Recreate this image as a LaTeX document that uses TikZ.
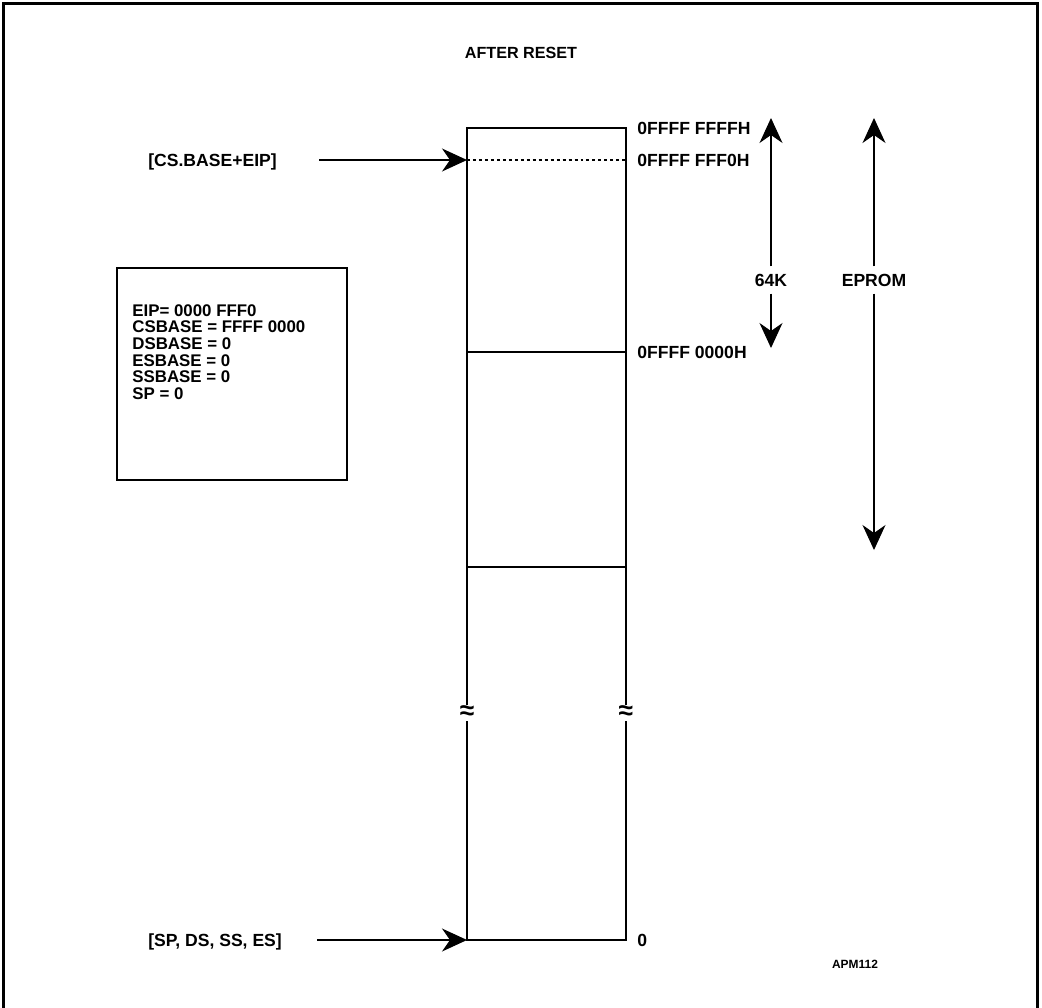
\documentclass[tikz,border=0pt]{standalone}
\usepackage{fontspec}
\setmainfont{Liberation Sans}
\usetikzlibrary{arrows.meta,positioning}
\tikzset{
  >={Stealth[length=5mm,width=4.6mm,inset=1.6mm]},
  lbl/.style={font=\bfseries\fontsize{10}{10.5}\selectfont,inner sep=0pt,
    text height=0.716em,text depth=0pt},
  titlelbl/.style={lbl,font=\bfseries\fontsize{9.2}{10}\selectfont},
  reglbl/.style={font=\bfseries\fontsize{9.6}{9.5}\selectfont,inner sep=0pt,
    align=left},
  smalllbl/.style={font=\bfseries\fontsize{6.8}{8}\selectfont,inner sep=0pt},
  spanlbl/.style={lbl,inner xsep=2pt,inner ysep=4pt},
  ptr/.style={->,line width=0.6pt},
  wall/.style={draw,line width=1.1pt},
  divider/.style={line width=0.6pt},
  brk/.style={fill=white,inner xsep=0pt,inner ysep=0.8pt,
    font=\bfseries\fontsize{15}{15}\selectfont},
}
\begin{document}
\begin{tikzpicture}[x=0.02cm,y=-0.02cm]
  \useasboundingbox (0,0) rectangle (1042,1008);
  \draw[line width=1.4pt] (3.5,3.5) rectangle (1037.5,1012);
  \node[titlelbl] (title) at (521,52) {AFTER RESET};
  % memory column
  \node[wall,minimum width=3.18cm,minimum height=16.24cm,anchor=north west,
    inner sep=0pt,outer sep=0pt] (mem) at (467,128) {};
  \draw[divider,dash pattern=on 1.7pt off 1.7pt] (mem.west |- 0,160) -- (mem.east |- 0,160);
  \draw[divider] (mem.west |- 0,352) -- (mem.east |- 0,352);
  \draw[divider] (mem.west |- 0,567) -- (mem.east |- 0,567);
  \node[brk] (brkL) at (mem.west |- 0,713) {≈};
  \node[brk] (brkR) at (mem.east |- 0,713) {≈};
  % addresses
  \node[lbl,anchor=west] (top) at (637,128) {0FFFF FFFFH};
  \node[lbl,anchor=west] (reset) at (637,160) {0FFFF FFF0H};
  \node[lbl,anchor=west] (seg) at (637,352) {0FFFF 0000H};
  \node[lbl,anchor=west] (zero) at (637,940) {0};
  % pointers
  \node[lbl,anchor=west] (cseip) at (148,160) {[CS.BASE+EIP]};
  \node[lbl,anchor=west] (stk) at (148,940) {[SP, DS, SS, ES]};
  \coordinate (cstail) at (319,160);
  \coordinate (stktail) at (317,940);
  \draw[ptr] (cstail) -- (mem.west |- cstail);
  \draw[ptr] (stktail) -- (mem.west |- stktail);
  % ranges
  \node[spanlbl] (k64) at (771,280) {64K};
  \coordinate (k64top) at (771,118);
  \coordinate (k64bot) at (771,348);
  \draw[ptr] (k64) -- (k64top);
  \draw[ptr] (k64) -- (k64bot);
  \node[spanlbl] (eprom) at (874,280) {EPROM};
  \coordinate (epromtop) at (874,118);
  \coordinate (epromtbot) at (874,550);
  \draw[ptr] (eprom) -- (epromtop);
  \draw[ptr] (eprom) -- (epromtbot);
  % register state
  \node[wall,minimum width=4.6cm,minimum height=4.24cm,anchor=north west,
    inner sep=0pt] (regs) at (116,267) {};
  \node[reglbl,anchor=north west] (regtxt) at (132,304)
    {EIP= 0000 FFF0\\CSBASE = FFFF 0000\\DSBASE = 0\\
    ESBASE = 0\\SSBASE = 0\\SP = 0};
  \node[smalllbl] (fig) at (855,964) {APM112};
\end{tikzpicture}
\end{document}
